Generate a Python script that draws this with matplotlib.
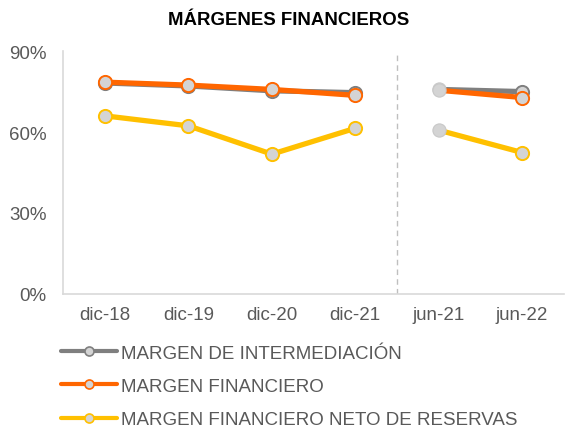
import numpy as np
import matplotlib
matplotlib.use("Agg")
import matplotlib.pyplot as plt
from matplotlib.lines import Line2D
from matplotlib.ticker import FuncFormatter

plt.rcParams['font.family'] = ['Liberation Sans', 'DejaVu Sans']

# datos
periodos = ["dic-18", "dic-19", "dic-20", "dic-21", "jun-21", "jun-22"]
margen_intermediacion = [78.2, 77.1, 75.3, 74.6, 75.8, 75.0]
margen_financiero = [78.5, 77.4, 75.8, 73.6, 75.5, 72.8]
margen_neto_reservas = [66.0, 62.3, 51.8, 61.4, 60.7, 52.4]

series = [
    ("MARGEN DE INTERMEDIACIÓN", margen_intermediacion, "#7f7f7f"),
    ("MARGEN FINANCIERO", margen_financiero, "#ff6600"),
    ("MARGEN FINANCIERO NETO DE RESERVAS", margen_neto_reservas, "#ffc000"),
]

texto = "#595959"
relleno = "#d4d4d4"

fig = plt.figure(figsize=(5.65, 4.31), dpi=100)
ax = fig.add_axes([0.112, 0.316, 0.886, 0.563])

x = np.arange(len(periodos))
handles = []
for i, (nombre, vals, color) in enumerate(series):
    vals = np.array(vals)
    estilo = dict(color=color, lw=3.8, marker="o", ms=9.5, mfc=relleno,
                  mec=color, mew=1.4, zorder=3 + i, solid_capstyle="round")
    ax.plot(x[:4], vals[:4], **estilo)
    ax.plot(x[4:], vals[4:], markevery=[1], **estilo)
    # jun-21 sin borde
    ax.plot(x[4], vals[4], marker="o", ms=9.5, mfc=relleno, mec="#c8c8c8",
            mew=0.8, ls="none", zorder=3 + i)
    # muestra para la leyenda
    handles.append(Line2D([], [], color=color, lw=3, marker="o", ms=6.5,
                          mfc=relleno, mec=color, mew=1.2, solid_capstyle="round"))

ax.axvline(3.5, color="#bfbfbf", lw=1, ls=(0, (4, 3)), zorder=1)

ax.set_xlim(-0.5, 5.5)
ax.set_ylim(0, 90)
ax.set_yticks([0, 30, 60, 90])
ax.yaxis.set_major_formatter(FuncFormatter(lambda v, p: f"{v:.0f}%"))
ax.set_xticks(x)
ax.set_xticklabels(periodos)
ax.tick_params(length=0, labelsize=13.5, labelcolor=texto)
ax.tick_params(axis="y", pad=12)
ax.tick_params(axis="x", pad=9)
for s in ["top", "right"]:
    ax.spines[s].set_visible(False)
for s in ["left", "bottom"]:
    ax.spines[s].set_color("#d9d9d9")
    ax.spines[s].set_linewidth(1.2)

fig.text(0.51, 0.953, "MÁRGENES FINANCIEROS", ha="center", va="center",
         fontsize=13.4, fontweight="bold", color="black")

leg = fig.legend(handles, [s[0] for s in series], loc="upper left",
                 bbox_to_anchor=(0.108, 0.198), frameon=False, fontsize=13.5,
                 handlelength=3.0, handletextpad=0.2, labelspacing=0.86,
                 borderpad=0, borderaxespad=0, numpoints=1)
for t in leg.get_texts():
    t.set_color(texto)

fig.savefig("out.png", dpi=100)
